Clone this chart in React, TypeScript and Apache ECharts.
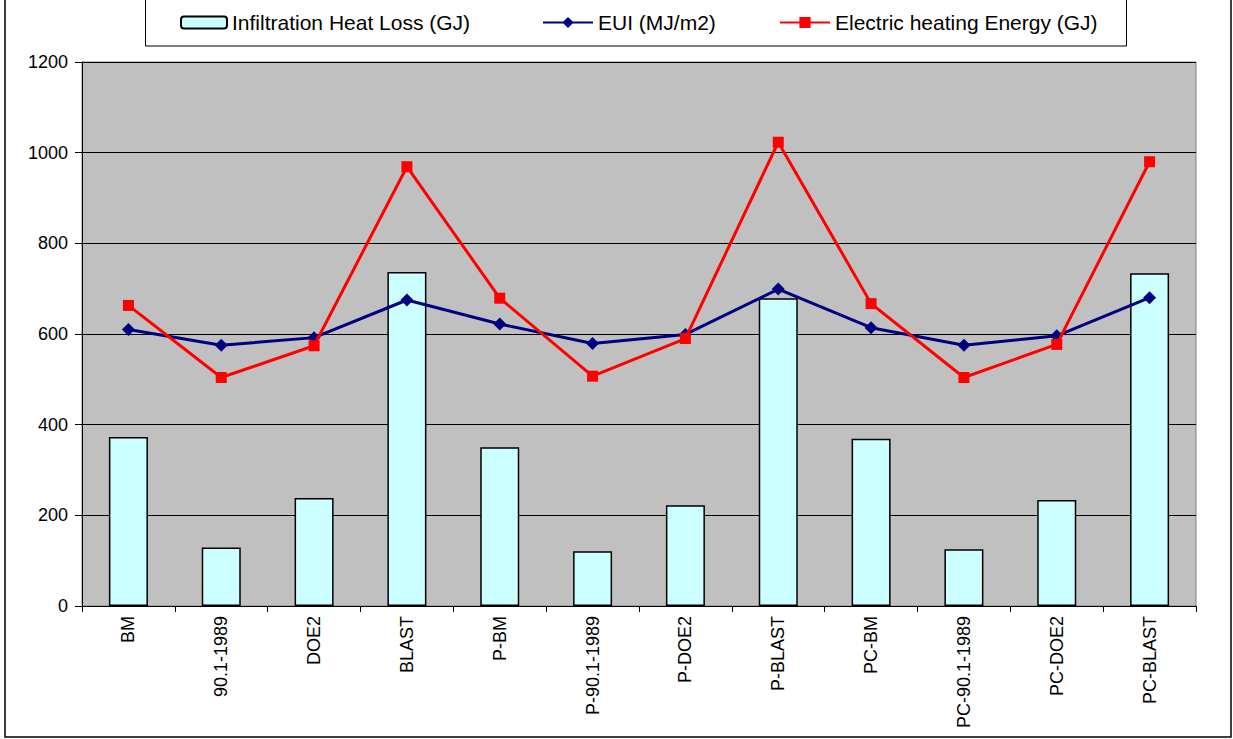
import React, { useEffect, useRef } from "react";
import * as echarts from "echarts";

const categories = ["BM", "90.1-1989", "DOE2", "BLAST", "P-BM", "P-90.1-1989", "P-DOE2", "P-BLAST", "PC-BM", "PC-90.1-1989", "PC-DOE2", "PC-BLAST"];
const infiltrationHeatLoss = [373, 129, 238, 737, 350, 121, 222, 679, 369, 125, 234, 734];
const eui = [610, 575, 592, 675, 622, 579, 599, 699, 614, 575, 596, 680];
const electricHeating = [663, 504, 574, 969, 679, 507, 590, 1023, 667, 504, 577, 980];
const yTicks = [0, 200, 400, 600, 800, 1000, 1200];

const FONT = "Liberation Sans, Arial, sans-serif";

export default function App() {
  const ref = useRef<HTMLDivElement>(null);
  useEffect(() => {
    if (!ref.current) return;
    const chart = echarts.init(ref.current, undefined, { renderer: "svg" });
    const legendText = { fontFamily: FONT, fontSize: 21, color: "#000" };
    chart.setOption({
      animation: false,
      backgroundColor: "#fff",
      textStyle: { fontFamily: FONT },
      graphic: [
        { type: "rect", shape: { x: 5, y: -2, width: 1226, height: 739 }, style: { fill: "none", stroke: "#000", lineWidth: 1.5 }, z: -10 },
        { type: "rect", shape: { x: 145.5, y: -2, width: 981, height: 48 }, style: { fill: "#fff", stroke: "#000", lineWidth: 1 }, z: -5 },
      ],
      legend: [
        { data: ["Infiltration Heat Loss (GJ)"], left: 180, top: 12, padding: 0, itemWidth: 46, itemHeight: 12, itemGap: 0, textStyle: legendText },
        { data: ["EUI (MJ/m2)"], left: 542, top: 12, padding: 0, itemWidth: 50, itemHeight: 14, textStyle: legendText },
        { data: ["Electric heating Energy (GJ)"], left: 779, top: 12, padding: 0, itemWidth: 50, itemHeight: 14, textStyle: legendText },
      ],
      grid: { left: 82, right: 37, top: 62, bottom: 133, show: true, backgroundColor: "#c0c0c0", borderColor: "#808080", borderWidth: 1 },
      xAxis: {
        type: "category",
        data: categories,
        axisLine: { lineStyle: { color: "#000", width: 1 } },
        axisTick: { show: true, length: 6, lineStyle: { color: "#000" } },
        axisLabel: { rotate: 90, margin: 10, fontSize: 18, color: "#000", fontFamily: FONT, interval: 0 },
      },
      yAxis: {
        type: "value",
        min: yTicks[0],
        max: yTicks[yTicks.length - 1],
        interval: 200,
        axisLine: { show: true, lineStyle: { color: "#000", width: 1 } },
        axisTick: { show: true, length: 7, lineStyle: { color: "#000" } },
        axisLabel: { margin: 14, fontSize: 18, color: "#000", fontFamily: FONT, formatter: (v: number) => String(v) },
        splitLine: { show: true, lineStyle: { color: "#000", width: 1 } },
      },
      series: [
        {
          name: "Infiltration Heat Loss (GJ)",
          type: "bar",
          data: infiltrationHeatLoss,
          barWidth: 39,
          itemStyle: { color: "#ccffff", borderColor: "#000", borderWidth: 1.5 },
          z: 2,
        },
        {
          name: "EUI (MJ/m2)",
          type: "line",
          data: eui,
          symbol: "diamond",
          symbolSize: 13,
          lineStyle: { color: "#000080", width: 3 },
          itemStyle: { color: "#000080" },
          z: 4,
        },
        {
          name: "Electric heating Energy (GJ)",
          type: "line",
          data: electricHeating,
          symbol: "rect",
          symbolSize: 11,
          lineStyle: { color: "#ff0000", width: 3 },
          itemStyle: { color: "#ff0000" },
          z: 5,
        },
      ],
    });
    return () => chart.dispose();
  }, []);
  return <div ref={ref} style={{ position: "fixed", left: 0, top: 0, width: 1233, height: 739 }} />;
}
